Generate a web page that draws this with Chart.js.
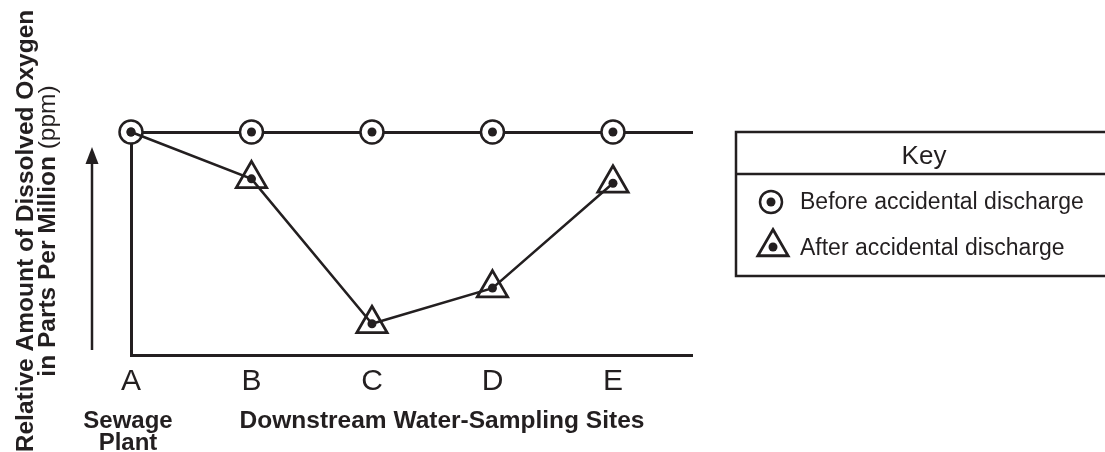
<!DOCTYPE html>
<html>
    <head>
        <meta charset="utf-8">
        <script src="https://cdn.jsdelivr.net/npm/chart.js@4.4.0/dist/chart.umd.min.js"></script>
        <style>
            body { margin: 0; background: #fff; }
        </style>
    </head>
    <body>
        <div style="width: 1105px; height: 452px;">
            <canvas id="wykres" width="1105" height="452"></canvas>
        </div>
        <script>
            // sampling sites and relative oxygen values
            var sites = ["A", "B", "C", "D", "E"];
            var beforeDischarge = [10, 10, 10, 10, 10];
            var afterDischarge = [10, 7.9, 1.4, 3.0, 7.7];
            var xMax = 4.656;

            var ink = "#231f20";
            var family = "'Liberation Sans', Arial, Helvetica, sans-serif";

            function pts(vals) {
                return vals.map(function (v, i) { return { x: i, y: v }; });
            }

            function circleMark(ctx, x, y) {
                ctx.beginPath();
                ctx.arc(x, y, 11, 0, Math.PI * 2);
                ctx.fillStyle = "#fff";
                ctx.fill();
                ctx.lineWidth = 2.5;
                ctx.strokeStyle = ink;
                ctx.stroke();
                ctx.beginPath();
                ctx.arc(x, y, 4.5, 0, Math.PI * 2);
                ctx.fillStyle = ink;
                ctx.fill();
            }

            function triangleMark(ctx, x, y) {
                var r = 17.5;
                ctx.beginPath();
                for (var k = 0; k < 3; k++) {
                    var a = k * 2 * Math.PI / 3;
                    var px = x + Math.sin(a) * r, py = y - Math.cos(a) * r;
                    if (k == 0) ctx.moveTo(px, py); else ctx.lineTo(px, py);
                }
                ctx.closePath();
                ctx.lineWidth = 2.8;
                ctx.lineJoin = "miter";
                ctx.strokeStyle = ink;
                ctx.stroke();
                ctx.beginPath();
                ctx.arc(x, y, 4.5, 0, Math.PI * 2);
                ctx.fillStyle = ink;
                ctx.fill();
            }

            var extras = {
                id: "extras",
                afterDraw: function (chart) {
                    var ctx = chart.ctx;
                    ctx.save();
                    ctx.fillStyle = ink;

                    // y axis title, rotated, two lines centred
                    ctx.save();
                    ctx.translate(33, 231);
                    ctx.rotate(-Math.PI / 2);
                    ctx.textAlign = "center";
                    ctx.textBaseline = "alphabetic";
                    ctx.font = "bold 24.5px " + family;
                    ctx.fillText("Relative Amount of Dissolved Oxygen", 0, 0);
                    var partA = "in Parts Per Million";
                    var partB = " (ppm)";
                    ctx.font = "bold 24.5px " + family;
                    var wA = ctx.measureText(partA).width;
                    ctx.font = "24.5px " + family;
                    var wB = ctx.measureText(partB).width;
                    var start = -(wA + wB) / 2;
                    ctx.textAlign = "left";
                    ctx.font = "bold 24.5px " + family;
                    ctx.fillText(partA, start, 22);
                    ctx.font = "24.5px " + family;
                    ctx.fillText(partB, start + wA, 22);
                    ctx.restore();

                    // upward arrow
                    ctx.strokeStyle = ink;
                    ctx.lineWidth = 2.5;
                    ctx.beginPath();
                    ctx.moveTo(92, 350);
                    ctx.lineTo(92, 160);
                    ctx.stroke();
                    ctx.beginPath();
                    ctx.moveTo(92, 147);
                    ctx.lineTo(98.5, 164);
                    ctx.lineTo(85.5, 164);
                    ctx.closePath();
                    ctx.fill();

                    // captions under the x axis
                    var sx = chart.scales.x;
                    ctx.textAlign = "center";
                    ctx.font = "bold 24px " + family;
                    ctx.fillText("Sewage", sx.getPixelForValue(0) - 3, 428);
                    ctx.fillText("Plant", sx.getPixelForValue(0) - 3, 450);
                    ctx.font = "bold 24.5px " + family;
                    ctx.fillText("Downstream Water-Sampling Sites", 442, 428);

                    // key box
                    ctx.lineWidth = 2.5;
                    ctx.beginPath();
                    ctx.moveTo(1105, 132);
                    ctx.lineTo(736, 132);
                    ctx.lineTo(736, 276);
                    ctx.lineTo(1105, 276);
                    ctx.moveTo(736, 174);
                    ctx.lineTo(1105, 174);
                    ctx.stroke();
                    ctx.font = "26px " + family;
                    ctx.fillText("Key", 924, 164);
                    ctx.textAlign = "left";
                    ctx.font = "23px " + family;
                    ctx.fillText("Before accidental discharge", 800, 209);
                    ctx.fillText("After accidental discharge", 800, 255);
                    circleMark(ctx, 771, 202);
                    triangleMark(ctx, 773, 247);

                    ctx.restore();
                }
            };

            var dane = {
                datasets: [
                    {
                        label: "after dots",
                        data: pts(afterDischarge),
                        showLine: false,
                        pointRadius: 4.5,
                        pointBackgroundColor: ink,
                        pointBorderWidth: 0,
                        clip: false,
                        order: 0
                    },
                    {
                        label: "After accidental discharge",
                        data: pts(afterDischarge),
                        showLine: true,
                        borderColor: ink,
                        borderWidth: 2.5,
                        pointStyle: "triangle",
                        // no triangle at the sewage plant, the line just starts there
                        pointRadius: function (c) { return c.dataIndex === 0 ? 0 : 17.5; },
                        pointBorderWidth: 2.8,
                        pointBorderColor: ink,
                        pointBackgroundColor: "rgba(0,0,0,0)",
                        clip: false,
                        order: 1
                    },
                    {
                        label: "before dots",
                        data: pts(beforeDischarge),
                        showLine: false,
                        pointRadius: 4.5,
                        pointBackgroundColor: ink,
                        pointBorderWidth: 0,
                        clip: false,
                        order: 2
                    },
                    {
                        label: "Before accidental discharge",
                        data: pts(beforeDischarge),
                        showLine: false,
                        pointStyle: "circle",
                        pointRadius: 11.5,
                        pointBorderWidth: 2.5,
                        pointBorderColor: ink,
                        pointBackgroundColor: "#fff",
                        clip: false,
                        order: 3
                    }
                ]
            };

            const ctx = document.getElementById("wykres").getContext("2d");
            const wykres = new Chart(ctx, {
                type: "scatter",
                data: dane,
                plugins: [extras],
                options: {
                    responsive: false,
                    animation: false,
                    layout: { padding: { left: 131, top: 132, right: 413, bottom: 0 } },
                    plugins: { legend: { display: false }, tooltip: { enabled: false } },
                    scales: {
                        x: {
                            type: "linear",
                            position: "bottom",
                            min: 0,
                            max: xMax,
                            afterBuildTicks: function (s) {
                                s.ticks = sites.map(function (name, i) { return { value: i }; });
                            },
                            afterFit: function (s) { s.height = 97; },
                            ticks: {
                                padding: 9,
                                color: ink,
                                font: { family: "'Liberation Sans Narrow', 'Liberation Sans', Arial, sans-serif", size: 30 },
                                callback: function (v) { return sites[v]; }
                            },
                            grid: { display: false, drawTicks: false },
                            border: { color: ink, width: 3 }
                        },
                        x2: {
                            type: "linear",
                            position: "top",
                            min: 0,
                            max: xMax,
                            afterFit: function (s) { s.height = 0; },
                            ticks: { display: false },
                            grid: { display: false, drawTicks: false },
                            border: { color: ink, width: 3 }
                        },
                        y: {
                            min: 0,
                            max: 10,
                            afterFit: function (s) { s.width = 0; },
                            ticks: { display: false },
                            grid: { display: false, drawTicks: false },
                            border: { color: ink, width: 3 }
                        }
                    }
                }
            });
        </script>
    </body>
</html>
